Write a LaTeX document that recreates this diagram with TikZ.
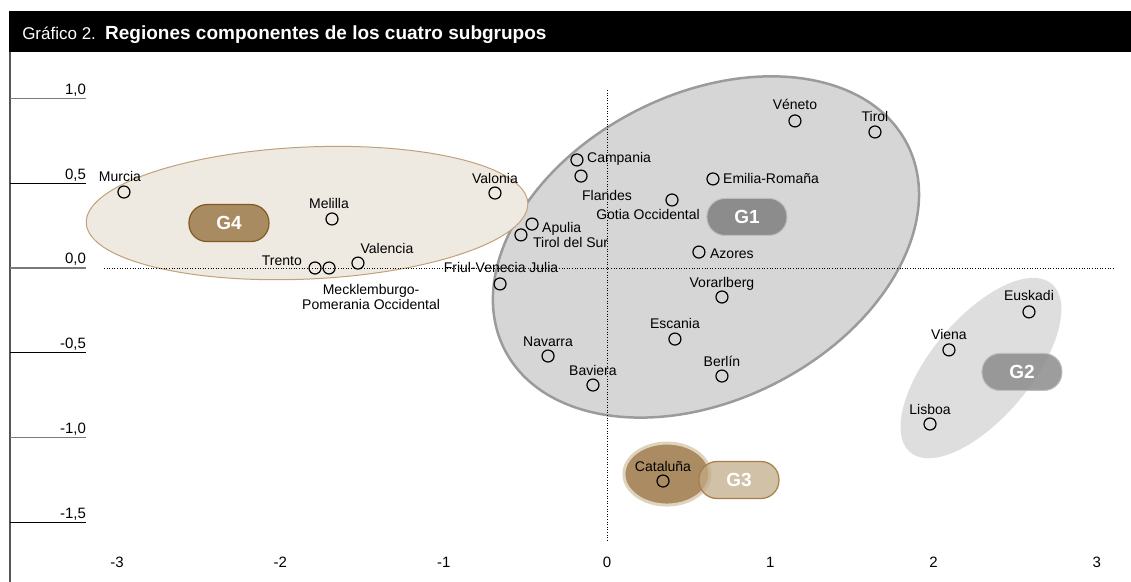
\documentclass[tikz,border=0pt]{standalone}
\usepackage{fontspec}
\setmainfont{Liberation Sans}
\usetikzlibrary{positioning}
\definecolor{gone}{HTML}{D6D6D6}
\definecolor{goneline}{HTML}{9B9B9B}
\definecolor{gonepill}{HTML}{8C8C8C}
\definecolor{gonepilldraw}{HTML}{BDBDBD}
\definecolor{gtwo}{HTML}{DEDEDE}
\definecolor{gfour}{HTML}{EEE9E1}
\definecolor{gfourline}{HTML}{BFA27A}
\definecolor{gfourpill}{HTML}{A98B61}
\definecolor{gfourpilldraw}{HTML}{845B1E}
\definecolor{gthree}{HTML}{AB8C62}
\definecolor{gthreeline}{HTML}{E0D3BE}
\definecolor{gthreepill}{HTML}{C2AC88}
\definecolor{gthreepilldraw}{HTML}{A97D45}
\definecolor{axisgray}{HTML}{7A7A7A}

\begin{document}
\begin{tikzpicture}[x=163.3pt,y=169.6pt,
    region/.style={circle,draw=black,line width=1.2pt,minimum size=12pt,inner sep=0pt},
    tag/.style={inner sep=0pt,font=\fontsize{14}{15}\selectfont},
    pill/.style={rounded corners=18pt,minimum width=80pt,minimum height=37pt,inner sep=0pt,
        text=white,font=\fontsize{19}{19}\selectfont\bfseries,line width=1.2pt},
    axlbl/.style={inner sep=0pt,font=\fontsize{15}{15}\selectfont}]
    \useasboundingbox (-3.7171,1.5802) rectangle (3.2088,-1.8514);
    % titulo
    \fill[black] (-3.662,1.515) rectangle (3.2088,1.274);
    \node[anchor=base west,text=white,inner sep=0pt,font=\fontsize{17}{17}\selectfont] (num) at (-3.582,1.350) {Gráfico 2.};
    \node[anchor=base west,text=white,inner sep=0pt,font=\fontsize{19}{19}\selectfont\bfseries] (titulo) at (-3.074,1.350) {Regiones componentes de los cuatro subgrupos};
    % ejes
    \draw[axisgray!70!black,line width=1.3pt] (-3.6559,1.274) -- (-3.6559,-1.8514);
    \draw[axisgray,line width=1.3pt] (-3.6559,1) -- (-3.190,1);
    \draw[black,line width=1.3pt] (-3.6559,0.5) -- (-3.190,0.5);
    \draw[axisgray,line width=1.3pt] (-3.6559,0) -- (-3.190,0);
    \draw[black,line width=1.3pt] (-3.6559,-0.5) -- (-3.190,-0.5);
    \draw[axisgray,line width=1.3pt] (-3.6559,-1) -- (-3.190,-1);
    \draw[black,line width=1.3pt] (-3.6559,-1.5) -- (-3.190,-1.5);
    \node[axlbl,anchor=base east] (yA) at ([yshift=4pt]-3.190,1) {1,0};
    \node[axlbl,anchor=base east] (yB) at ([yshift=4pt]-3.190,0.5) {0,5};
    \node[axlbl,anchor=base east] (yC) at ([yshift=4pt]-3.190,0) {0,0};
    \node[axlbl,anchor=base east] (yD) at ([yshift=4pt]-3.190,-0.5) {-0,5};
    \node[axlbl,anchor=base east] (yE) at ([yshift=4pt]-3.190,-1) {-1,0};
    \node[axlbl,anchor=base east] (yF) at ([yshift=4pt]-3.190,-1.5) {-1,5};
    \node[axlbl] (xA) at (-3,-1.733) {-3};
    \node[axlbl] (xB) at (-2,-1.733) {-2};
    \node[axlbl] (xC) at (-1,-1.733) {-1};
    \node[axlbl] (xD) at (0,-1.733) {0};
    \node[axlbl] (xE) at (1,-1.733) {1};
    \node[axlbl] (xF) at (2,-1.733) {2};
    \node[axlbl] (xG) at (3,-1.733) {3};
    % grupos
    \coordinate (cG1) at (0.606,0.124);
    \coordinate (cG4) at (-1.837,0.324);
    \coordinate (cG2) at (2.290,-0.590);
    \coordinate (cG3) at (0.367,-1.215);
    \draw[goneline,fill=gone,line width=2.5pt,rotate around={27:(cG1)}] (cG1) ellipse (226pt and 153pt);
    \draw[gfourline,fill=gfour,line width=1pt,rotate around={2.6:(cG4)}] (cG4) ellipse (221pt and 66pt);
    \fill[gtwo,rotate around={50:(cG2)}] (cG2) ellipse (110pt and 50pt);
    \draw[gthreeline,fill=gthree,line width=3pt] (cG3) ellipse (43pt and 31pt);
    % lineas de referencia
    \draw[dotted,line width=.6pt] (-3.080,0) -- (3.099,0);
    \draw[dotted,line width=.6pt] (0,1.050) -- (0,-1.604);
    % regiones
    \node[region] (murcia) at (-2.958,0.448) {};
    \node[region] (melilla) at (-1.684,0.289) {};
    \node[region] (valonia) at (-0.686,0.442) {};
    \node[region] (trento) at (-1.788,0) {};
    \node[region] (meck) at (-1.702,0) {};
    \node[region] (valencia) at (-1.525,0.029) {};
    \node[region] (campania) at (-0.184,0.637) {};
    \node[region] (flandes) at (-0.159,0.542) {};
    \node[region] (gotia) at (0.398,0.401) {};
    \node[region] (emilia) at (0.649,0.525) {};
    \node[region] (veneto) at (1.151,0.867) {};
    \node[region] (tirol) at (1.641,0.802) {};
    \node[region] (apulia) at (-0.459,0.259) {};
    \node[region] (tirolsur) at (-0.527,0.195) {};
    \node[region] (azores) at (0.563,0.094) {};
    \node[region] (friul) at (-0.655,-0.094) {};
    \node[region] (vorarl) at (0.704,-0.171) {};
    \node[region] (escania) at (0.416,-0.419) {};
    \node[region] (navarra) at (-0.361,-0.519) {};
    \node[region] (baviera) at (-0.086,-0.690) {};
    \node[region] (berlin) at (0.704,-0.637) {};
    \node[region] (euskadi) at (2.584,-0.259) {};
    \node[region] (viena) at (2.094,-0.483) {};
    \node[region] (lisboa) at (1.978,-0.920) {};
    \node[region] (cataluna) at (0.343,-1.256) {};
    % etiquetas
    \node[tag,anchor=base] (tmurcia) at ([shift={(-4pt,10.5pt)}]murcia) {Murcia};
    \node[tag,anchor=base] (tmelilla) at ([shift={(-3pt,10.5pt)}]melilla) {Melilla};
    \node[tag,anchor=base] (tvalonia) at ([shift={(0pt,10pt)}]valonia) {Valonia};
    \node[tag,anchor=base east] (ttrento) at ([shift={(-13pt,2pt)}]trento) {Trento};
    \node[tag,anchor=north,align=center] (tmeck) at ([shift={(42pt,-16pt)}]meck) {Mecklemburgo-\\Pomerania Occidental};
    \node[tag,anchor=base] (tvalencia) at ([shift={(29pt,10pt)}]valencia) {Valencia};
    \node[tag,anchor=base west] (tcampania) at ([shift={(10pt,-3pt)}]campania) {Campania};
    \node[tag,anchor=base] (tflandes) at ([shift={(26pt,-24pt)}]flandes) {Flandes};
    \node[tag,anchor=base east] (tgotia) at ([shift={(28pt,-20pt)}]gotia) {Gotia Occidental};
    \node[tag,anchor=base west] (temilia) at ([shift={(10pt,-5pt)}]emilia) {Emilia-Romaña};
    \node[tag,anchor=base] (tveneto) at ([shift={(0pt,11pt)}]veneto) {Véneto};
    \node[tag,anchor=base] (ttirol) at ([shift={(0pt,10pt)}]tirol) {Tirol};
    \node[tag,anchor=base west] (tapulia) at ([shift={(10pt,-8pt)}]apulia) {Apulia};
    \node[tag,anchor=base west] (ttirolsur) at ([shift={(12pt,-13pt)}]tirolsur) {Tirol del Sur};
    \node[tag,anchor=base west] (tazores) at ([shift={(11pt,-6pt)}]azores) {Azores};
    \node[tag,anchor=base] (tfriul) at ([shift={(1pt,11pt)}]friul) {Friul-Venecia Julia};
    \node[tag,anchor=base] (tvorarl) at ([shift={(0pt,10pt)}]vorarl) {Vorarlberg};
    \node[tag,anchor=base] (tescania) at ([shift={(0pt,11pt)}]escania) {Escania};
    \node[tag,anchor=base] (tnavarra) at ([shift={(0pt,10pt)}]navarra) {Navarra};
    \node[tag,anchor=base] (tbaviera) at ([shift={(0pt,10pt)}]baviera) {Baviera};
    \node[tag,anchor=base] (tberlin) at ([shift={(0pt,10pt)}]berlin) {Berlín};
    \node[tag,anchor=base] (teuskadi) at ([shift={(0pt,11pt)}]euskadi) {Euskadi};
    \node[tag,anchor=base] (tviena) at ([shift={(0pt,10pt)}]viena) {Viena};
    \node[tag,anchor=base] (tlisboa) at ([shift={(0pt,10pt)}]lisboa) {Lisboa};
    \node[tag,anchor=base] (tcataluna) at ([shift={(0pt,10pt)}]cataluna) {Cataluña};
    % nombres de grupo
    \node[pill,fill=gfourpill,draw=gfourpilldraw] (gfour) at (-2.315,0.265) {G4};
    \node[pill,fill=gonepill,draw=gonepilldraw,line width=1pt] (gonetag) at (0.857,0.301) {G1};
    \node[pill,fill=gonepill,draw=gonepilldraw,line width=1pt,fill opacity=.85,text opacity=1] (gtwotag) at (2.541,-0.613) {G2};
    \node[pill,fill=gthreepill,draw=gthreepilldraw,fill opacity=.75,text opacity=1] (gthreetag) at (0.808,-1.250) {G3};
\end{tikzpicture}
\end{document}
